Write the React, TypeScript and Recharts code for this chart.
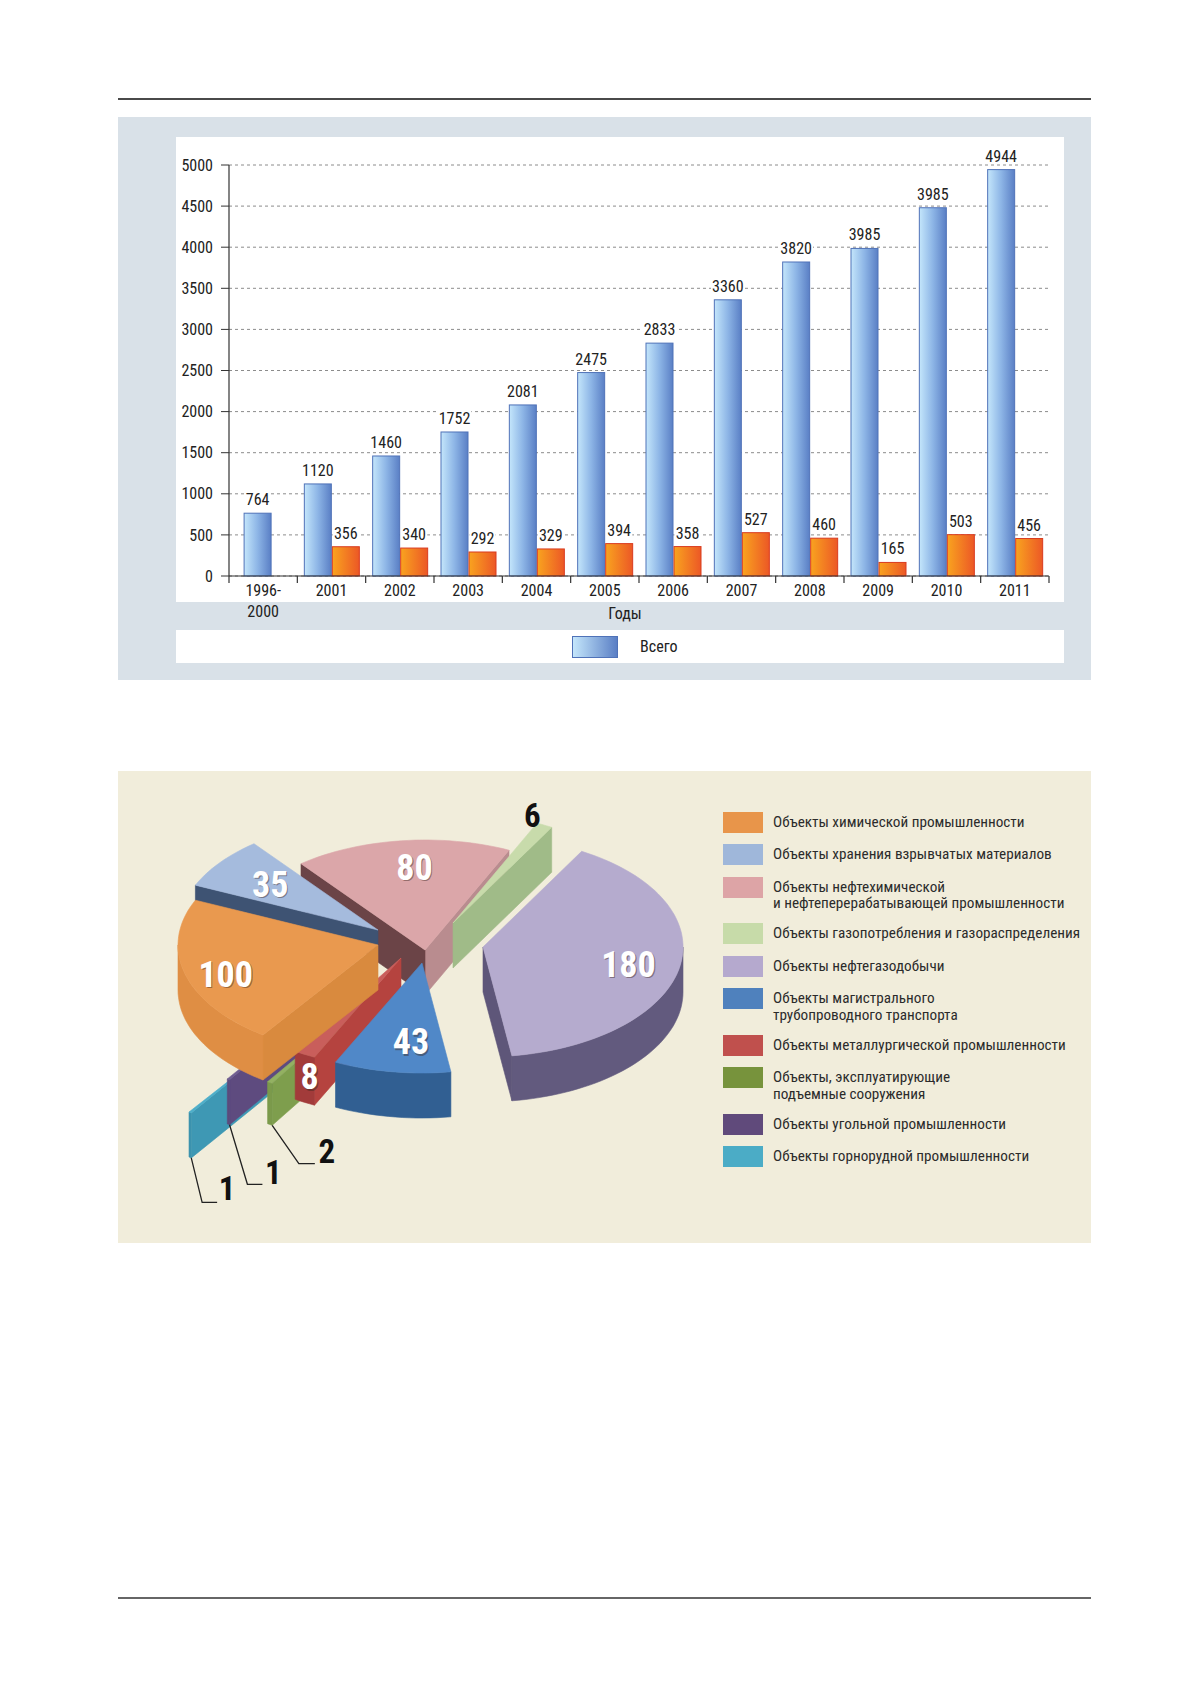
import React from "react";
import {
  Bar,
  BarChart,
  CartesianGrid,
  Label,
  LabelList,
  Pie,
  PieChart,
  XAxis,
  YAxis
} from "recharts";

// ---- data: accidents / objects by year ----
const years = ["1996-2000", "2001", "2002", "2003", "2004", "2005", "2006", "2007", "2008", "2009", "2010", "2011"];
// bar heights as drawn (2010 is drawn near 4480 although it is printed as 3985)
const totalCases = [764, 1120, 1460, 1752, 2081, 2475, 2833, 3360, 3820, 3985, 4480, 4944];
const totalLabels = ["764", "1120", "1460", "1752", "2081", "2475", "2833", "3360", "3820", "3985", "3985", "4944"];
const annualCases = [null, 356, 340, 292, 329, 394, 358, 527, 460, 165, 503, 456];
const yTicks = [0, 500, 1000, 1500, 2000, 2500, 3000, 3500, 4000, 4500, 5000];
const barLegendLabel = "Всего";
const xAxisTitle = "Годы";

// ---- data: objects by industry ----
const objectTypes = [
  "Объекты химической промышленности",
  "Объекты хранения взрывчатых материалов",
  "Объекты нефтехимической\nи нефтеперерабатывающей промышленности",
  "Объекты газопотребления и газораспределения",
  "Объекты нефтегазодобычи",
  "Объекты магистрального\nтрубопроводного транспорта",
  "Объекты металлургической промышленности",
  "Объекты, эксплуатирующие\nподъемные сооружения",
  "Объекты угольной промышленности",
  "Объекты горнорудной промышленности"
];
const objectCounts = [100, 35, 80, 6, 180, 43, 8, 2, 1, 1];
// order round the pie (counter-clockwise, starting with the ore-mining slice)
const pieOrder = [9, 8, 7, 6, 5, 4, 3, 2, 1, 0];

const FONT = "'Liberation Sans Narrow', 'Arial Narrow', 'Roboto Condensed', 'Liberation Sans', sans-serif";

const barRows = years.map((year, i) => ({
  year,
  total: totalCases[i],
  totalLabel: totalLabels[i],
  annual: annualCases[i]
}));

const pieRows = pieOrder.map((key) => ({ key, name: objectTypes[key], count: objectCounts[key] }));

// ---- looks of the 3d pie (legend order) ----
const legendColors = ["#E8954A", "#9FB7DA", "#DDA4A6", "#C7DBA9", "#B5A9CE", "#4F81BD", "#C0504D", "#77933C", "#604A7B", "#4BACC6"];
const sliceLooks = [
  { top: "#E9994F", lo: "#D8863A", hi: "#D98A3E", rim: "#DF8E44", shift: [-45, -10], depth: 45, layer: 2 },
  { top: "#A5BBDD", lo: "#42587A", hi: "#3E5373", rim: "#4A6185", shift: [-45, -25], depth: 25, layer: 0 },
  { top: "#DBA6A9", lo: "#B98C8F", hi: "#6B4447", rim: "#9C6E71", shift: [2, -5], depth: 45, layer: 0 },
  { top: "#C8DBAB", lo: "#A0BB88", hi: "#A0BB88", rim: "#A9C290", shift: [30, -32], depth: 45, layer: 1 },
  { top: "#B5ABCE", lo: "#5E5679", hi: "#5E5679", rim: "#625A7E", shift: [60, -8], depth: 45, layer: 1 },
  { top: "#5088C8", lo: "#2F5E90", hi: "#2F5E90", rim: "#315F92", shift: [-1, 8], depth: 45, layer: 1 },
  { top: "#C95E5B", lo: "#A33C3A", hi: "#B5433F", rim: "#A23B3A", shift: [-22, 3], depth: 48, layer: 1 },
  { top: "#93B162", lo: "#7B9C4B", hi: "#7E9E4D", rim: "#7B9A4B", shift: [-45, 35], depth: 42, layer: 1 },
  { top: "#6E5C90", lo: "#5C4A7C", hi: "#5E4B7F", rim: "#5C4A7C", shift: [-83, 33], depth: 45, layer: 1 },
  { top: "#4DAECA", lo: "#3C93AE", hi: "#3E98B4", rim: "#3C93AE", shift: [-119, 67], depth: 45, layer: 1 }
];
const labelSpots = [
  { reach: 0.79, nudge: [0, 7], dark: false },
  { reach: 0.74, nudge: [9, 5], dark: false },
  { reach: 0.75, nudge: [7, 0], dark: false },
  { reach: 1.0, nudge: [-12, -10], dark: true },
  { reach: 0.74, nudge: [0, 3], dark: false },
  { reach: 0.73, nudge: [11, 0], dark: false },
  { reach: 1.0, nudge: [5, 23], dark: false },
  { reach: 1.0, nudge: [57, 69], dark: true, leader: [[-28, 12], [-12, 12]] },
  { reach: 1.0, nudge: [45, 93], dark: true, leader: [[-26, 12], [-11, 12]] },
  { reach: 1.0, nudge: [37, 76], dark: true, leader: [[-25, 14], [-10, 14]] }
];
const shapeLayers = [0, 1, 2];

const K = 0.55;
const RAD = Math.PI / 180;

function onRim(ax: number, ay: number, r: number, deg: number) {
  return [ax + r * Math.cos(deg * RAD), ay - r * K * Math.sin(deg * RAD)];
}

function arcPoints(ax: number, ay: number, r: number, from: number, to: number, dz = 0) {
  const pts: number[][] = [];
  const n = Math.max(2, Math.ceil(Math.abs(to - from) / 2));
  for (let i = 0; i <= n; i++) {
    const [x, y] = onRim(ax, ay, r, from + ((to - from) * i) / n);
    pts.push([x, y + dz]);
  }
  return pts;
}

const toPath = (pts: number[][]) =>
  "M" + pts.map((p) => p[0].toFixed(1) + "," + p[1].toFixed(1)).join("L") + "Z";

const sliceForLayer = (layer: number) => (props: any) => {
  const { cx, cy, outerRadius, startAngle, endAngle, index } = props;
  const look = sliceLooks[pieRows[index].key];
  if (look.layer !== layer) return null;
  const depth = look.depth;
  const ax = cx + look.shift[0];
  const ay = cy + look.shift[1];
  const lo = Math.min(startAngle, endAngle);
  const hi = Math.max(startAngle, endAngle);
  const walls: any[] = [];
  const radial = (deg: number, color: string, key: string) => {
    const [ex, ey] = onRim(ax, ay, outerRadius, deg);
    return (
      <path key={key} d={toPath([[ax, ay], [ex, ey], [ex, ey + depth], [ax, ay + depth]])}
        fill={color} stroke={color} strokeWidth={0.6} />
    );
  };
  if (Math.cos(lo * RAD) > 0) walls.push(radial(lo, look.lo, "lo"));
  if (Math.cos(hi * RAD) < 0) walls.push(radial(hi, look.hi, "hi"));
  for (let n = -1; n <= 2; n++) {
    const a = Math.max(lo, -180 + 360 * n);
    const b = Math.min(hi, 360 * n);
    if (b > a) {
      const pts = [...arcPoints(ax, ay, outerRadius, a, b), ...arcPoints(ax, ay, outerRadius, b, a, depth)];
      walls.push(<path key={"rim" + n} d={toPath(pts)} fill={look.rim} stroke={look.rim} strokeWidth={0.6} />);
    }
  }
  const face = [[ax, ay], ...arcPoints(ax, ay, outerRadius, lo, hi)];
  return (
    <g key={"slice-" + index}>
      {walls}
      <path d={toPath(face)} fill={look.top} stroke={look.top} strokeWidth={0.6} />
    </g>
  );
};

function SliceLabel(props: any) {
  const { cx, cy, outerRadius, startAngle, endAngle, index } = props;
  const row = pieRows[index];
  const look = sliceLooks[row.key];
  const spot = labelSpots[row.key];
  const ax = cx + look.shift[0];
  const ay = cy + look.shift[1];
  const mid = (startAngle + endAngle) / 2;
  const [px, py] = onRim(ax, ay, outerRadius * spot.reach, mid);
  const lx = px + spot.nudge[0];
  const ly = py + spot.nudge[1];
  let leader = null;
  if (spot.leader) {
    const hi = Math.max(startAngle, endAngle);
    const [ex, ey] = onRim(ax, ay, outerRadius, hi);
    const pts = [[ex, ey + look.depth], ...spot.leader.map((p) => [lx + p[0], ly + p[1]])];
    leader = <polyline points={pts.map((p) => p.join(",")).join(" ")} fill="none" stroke="#222" strokeWidth={1.3} />;
  }
  return (
    <g key={"label-" + index}>
      {leader}
      {!spot.dark && (
        <text x={lx + 1.2} y={ly + 1.2} textAnchor="middle" dominantBaseline="central"
          fontFamily={FONT} fontWeight="bold" fontSize={36} fill="rgba(60,40,30,0.45)">
          {row.count}
        </text>
      )}
      <text x={lx} y={ly} textAnchor="middle" dominantBaseline="central" fontFamily={FONT}
        fontWeight="bold" fontSize={spot.dark ? 33 : 36} fill={spot.dark ? "#111" : "#fff"}>
        {row.count}
      </text>
    </g>
  );
}

function YearTick(props: any) {
  const { x, y, payload, index } = props;
  const half = payload && payload.offset ? payload.offset : 820 / 24;
  const value = String(payload.value);
  const lines = value.includes("-") ? [value.split("-")[0] + "-", value.split("-")[1]] : [value];
  return (
    <g>
      <line x1={x - half} x2={x - half} y1={y} y2={y + 7} stroke="#333" strokeWidth={1.2} />
      {index === years.length - 1 && (
        <line x1={x + half} x2={x + half} y1={y} y2={y + 7} stroke="#333" strokeWidth={1.2} />
      )}
      <text x={x} y={y + 20} textAnchor="middle" fontFamily={FONT} fontSize={16} fill="#222">
        {lines.map((t, i) => (
          <tspan key={i} x={x} dy={i === 0 ? 0 : 21}>{t}</tspan>
        ))}
      </text>
    </g>
  );
}

const soloShift = (index: number, width: number) => (annualCases[index] == null ? width * 0.3 : 0);

function TotalShape(props: any) {
  const { x, y, width, height, index } = props;
  return (
    <rect x={x + soloShift(index, width)} y={y} width={width} height={height}
      fill="url(#gradTotal)" stroke="#4F72B8" strokeWidth={1} />
  );
}

function AnnualShape(props: any) {
  const { x, y, width, height } = props;
  return <rect x={x} y={y} width={width} height={height} fill="url(#gradAnnual)" stroke="#D93B1F" strokeWidth={1} />;
}

const valueTag = (shiftSolo: boolean) => (props: any) => {
  const vb = props.viewBox || props;
  const { x, y, width } = vb;
  const { value, index } = props;
  if (value == null || value === "") return null;
  const text = String(value);
  const cx = x + width / 2 + (shiftSolo ? soloShift(index, width) : 0);
  const w = text.length * 7.4 + 4;
  return (
    <g>
      <rect x={cx - w / 2} y={y - 24} width={w} height={18} fill="#fff" />
      <text x={cx} y={y - 8} textAnchor="middle" fontFamily={FONT} fontSize={16} fill="#222">{text}</text>
    </g>
  );
};

export default function App() {
  return (
    <div style={{ position: "absolute", left: 0, top: 0, width: 1179, height: 1681, background: "#fff", fontFamily: FONT }}>
      <div style={{ position: "absolute", left: 118, top: 98, width: 973, height: 2, background: "#4a4a4a" }} />

      {/* bar chart block */}
      <div style={{ position: "absolute", left: 118, top: 117, width: 973, height: 563, background: "#D9E1E8" }} />
      <div style={{ position: "absolute", left: 176, top: 137, width: 888, height: 465, background: "#fff" }} />
      <div style={{ position: "absolute", left: 176, top: 630, width: 888, height: 33, background: "#fff" }}>
        <div style={{ position: "absolute", left: 396, top: 6, width: 44, height: 20,
          background: "linear-gradient(to right, #C4E6FB, #5A7FC5)", border: "1px solid #4F72B8" }} />
        <div style={{ position: "absolute", left: 464, top: 6, fontSize: 16, lineHeight: "22px", color: "#222" }}>
          {barLegendLabel}
        </div>
      </div>
      <div style={{ position: "absolute", left: 118, top: 117 }}>
        <BarChart width={973} height={563} data={barRows} barSize={27} barGap={1}
          margin={{ top: 48, right: 42, left: 51, bottom: 74 }} style={{ overflow: "visible" }}>
          <defs>
            <linearGradient id="gradTotal" x1="0" y1="0" x2="1" y2="0">
              <stop offset="0" stopColor="#C4E6FB" />
              <stop offset="0.5" stopColor="#8DB5E6" />
              <stop offset="1" stopColor="#5A7FC5" />
            </linearGradient>
            <linearGradient id="gradAnnual" x1="0" y1="0" x2="1" y2="0">
              <stop offset="0" stopColor="#F9A31F" />
              <stop offset="1" stopColor="#EC5826" />
            </linearGradient>
          </defs>
          <CartesianGrid vertical={false} strokeDasharray="3 3" stroke="#8c8c8c" />
          <XAxis dataKey="year" interval={0} tickLine={false} tickSize={0} tickMargin={0} height={30}
            axisLine={{ stroke: "#333", strokeWidth: 1.2 }} tick={<YearTick />}>
            <Label value={xAxisTitle} position="bottom" offset={2} dx={-14}
              style={{ fontFamily: FONT, fontSize: 16, fill: "#222" }} />
          </XAxis>
          <YAxis domain={[0, 5000]} ticks={yTicks} width={60} tickSize={8} tickMargin={8}
            axisLine={{ stroke: "#333", strokeWidth: 1.2 }} tickLine={{ stroke: "#333" }}
            tick={{ fontFamily: FONT, fontSize: 16, fill: "#222" }} interval={0} />
          <YAxis yAxisId="frame" orientation="right" domain={[0, 5000]} width={0} tick={false}
            tickLine={false} axisLine={{ stroke: "#333", strokeWidth: 1.2 }} />
          <Bar dataKey="total" shape={<TotalShape />} isAnimationActive={false}>
            <LabelList dataKey="totalLabel" content={valueTag(true)} />
          </Bar>
          <Bar dataKey="annual" shape={<AnnualShape />} isAnimationActive={false}>
            <LabelList dataKey="annual" content={valueTag(false)} />
          </Bar>
        </BarChart>
      </div>

      {/* pie block */}
      <div style={{ position: "absolute", left: 118, top: 771, width: 973, height: 472, background: "#F1EDDB" }} />
      <div style={{ position: "absolute", left: 118, top: 771 }}>
        <PieChart width={973} height={472} style={{ overflow: "visible" }}>
          {shapeLayers.map((layer) => (
            <Pie key={"layer" + layer} data={pieRows} dataKey="count" nameKey="name" cx={300} cy={179}
              outerRadius={200} startAngle={234.9} endAngle={594.9} fill="none" stroke="none"
              labelLine={false} label={sliceForLayer(layer)} isAnimationActive={false} />
          ))}
          <Pie data={pieRows} dataKey="count" nameKey="name" cx={300} cy={179} outerRadius={200}
            startAngle={234.9} endAngle={594.9} fill="none" stroke="none" labelLine={false}
            label={SliceLabel} isAnimationActive={false} />
        </PieChart>
      </div>
      <div style={{ position: "absolute", left: 723, top: 812, width: 360 }}>
        {objectTypes.map((name, i) => (
          <div key={name} style={{ display: "flex", alignItems: "flex-start", marginBottom: 11.3 }}>
            <div style={{ width: 40, height: 21, background: legendColors[i], flex: "none" }} />
            <div style={{ marginLeft: 10, paddingTop: 2, fontSize: 15.2, lineHeight: "16.7px", color: "#2b2b2b", whiteSpace: "pre" }}>
              {name}
            </div>
          </div>
        ))}
      </div>

      <div style={{ position: "absolute", left: 118, top: 1597, width: 973, height: 2, background: "#666" }} />
    </div>
  );
}
